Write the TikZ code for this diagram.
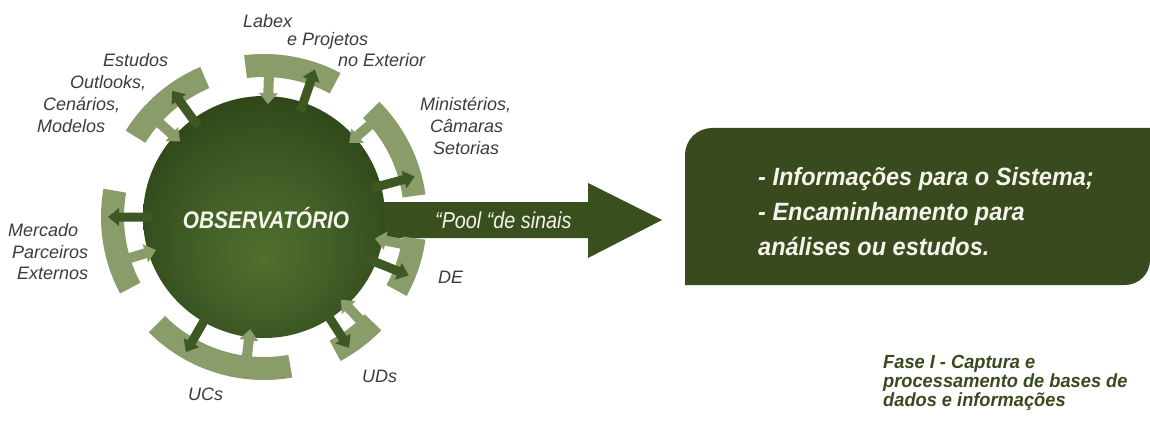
\documentclass[tikz,border=0pt]{standalone}
\usepackage{fontspec}
\setmainfont{Liberation Sans}
\newfontfamily\labf{Liberation Sans}
\newfontfamily\obsf{Liberation Sans}[FakeStretch=0.87]
\newfontfamily\poolf{Liberation Sans}[FakeStretch=0.86]
\newfontfamily\boxf{Liberation Sans}[FakeStretch=0.94]
\newfontfamily\fasef{Liberation Sans}[FakeStretch=0.96]
\usetikzlibrary{calc}
\definecolor{arcL}{HTML}{8B9C6B}
\definecolor{arrD}{HTML}{3D5823}
\definecolor{obsin}{HTML}{50702D}
\definecolor{obsmid}{HTML}{425F28}
\definecolor{obsout}{HTML}{2E4618}
\definecolor{bigarr}{HTML}{3A4F1E}
\definecolor{boxg}{HTML}{3A4A1F}
\definecolor{labgrey}{HTML}{3C3C3C}
\definecolor{wtext}{HTML}{F4F4EA}
\pgfdeclareradialshading{obsshade}{\pgfpoint{0bp}{-9bp}}{color(0bp)=(obsin); color(14bp)=(obsmid); color(30bp)=(obsout); color(50bp)=(obsout)}
\newcommand\ringseg[2]{\fill[arcL] ($(C)+(#1:140pt)$) arc[start angle=#1, end angle=#2, radius=140pt] -- ($(C)+(#2:163pt)$) arc[start angle=#2, end angle=#1, radius=163pt] -- cycle;}
\newcommand\outarrow[1]{\begin{scope}[shift={(C)},rotate=#1]\fill[arrD] (112,-4.5) -- (145,-4.5) -- (145,-9) -- (156,0) -- (145,9) -- (145,4.5) -- (112,4.5) -- cycle;\end{scope}}
\newcommand\inarrow[1]{\begin{scope}[shift={(C)},rotate=#1]\fill[arcL] (150,-5) -- (124,-5) -- (124,-9.5) -- (113,0) -- (124,9.5) -- (124,5) -- (150,5) -- cycle;\end{scope}}
\tikzset{
  lab/.style={text=labgrey, font=\labf\itshape\fontsize{18}{20}\selectfont, inner sep=0pt, anchor=base west},
  infotext/.style={text=wtext, font=\boxf\bfseries\itshape\fontsize{25}{30}\selectfont, inner sep=0pt, anchor=base west},
  fasetext/.style={text=boxg, font=\fasef\bfseries\itshape\fontsize{19}{20}\selectfont, inner sep=0pt, anchor=base west}
}
\begin{document}
\begin{tikzpicture}[x=1pt,y=1pt]
\useasboundingbox[fill=white] (0,0) rectangle (1150,421);
\coordinate (C) at (264,204);
% big arrow
\fill[bigarr] (264,183) -- (588,183) -- (588,163) -- (662,201) -- (588,238) -- (588,219) -- (264,219) -- cycle;
% circle
\shade[shading=obsshade] (C) circle[radius=121pt];
\node[circle, minimum size=242pt, inner sep=0pt] (obs) at (C) {};
% ring segments
\ringseg{62}{97}
\ringseg{8}{45}
\ringseg{-29}{-8}
\ringseg{-62}{-44}
\ringseg{-135}{-80}
\ringseg{170}{208}
\ringseg{113}{148}
% arrows
\inarrow{88}\outarrow{71}
\inarrow{41}\outarrow{15}
\inarrow{-11}\outarrow{-22}
\inarrow{-47}\outarrow{-57}
\inarrow{-97}\outarrow{-120}
\inarrow{197}\outarrow{180}
\inarrow{138}\outarrow{126}
% box
\fill[boxg] (685,136) -- (1125,136) arc[start angle=270, end angle=360, radius=25] -- (1150,293) -- (712,293) arc[start angle=90, end angle=180, radius=27] -- cycle;
% texts
\node[text=wtext, font=\obsf\bfseries\itshape\fontsize{24}{26}\selectfont, inner sep=0pt, anchor=base] (obst) at (266,193) {OBSERVATÓRIO};
\node[text=wtext, font=\poolf\itshape\fontsize{23}{26}\selectfont, inner sep=0pt, anchor=base west] (pool) at (435,193) {“Pool “de sinais};
\node[infotext] (info1) at (758,236) {- Informações para o Sistema;};
\node[infotext] (info2) at (758,201) {- Encaminhamento para};
\node[infotext] (info3) at (758,166) {análises ou estudos.};
\node[fasetext] (fase1) at (883,53) {Fase I - Captura e};
\node[fasetext] (fase2) at (883,34) {processamento de bases de};
\node[fasetext] (fase3) at (883,15) {dados e informações};
\node[lab] (l1) at (243,393) {Labex};
\node[lab] (l2) at (287,375) {e Projetos};
\node[lab] (l3) at (338,354) {no Exterior};
\node[lab] (e1) at (103,354) {Estudos};
\node[lab] (e2) at (70,332) {Outlooks,};
\node[lab] (e3) at (43,310) {Cenários,};
\node[lab] (e4) at (37,288) {Modelos};
\node[lab] (m1) at (420,310) {Ministérios,};
\node[lab] (m2) at (430,288) {Câmaras};
\node[lab] (m3) at (433,266) {Setorias};
\node[lab] (p1) at (8,185) {Mercado};
\node[lab] (p2) at (12,163) {Parceiros};
\node[lab] (p3) at (17,142) {Externos};
\node[lab] (de) at (438,138) {DE};
\node[lab] (uds) at (362,39) {UDs};
\node[lab] (ucs) at (188,21) {UCs};
\end{tikzpicture}
\end{document}
